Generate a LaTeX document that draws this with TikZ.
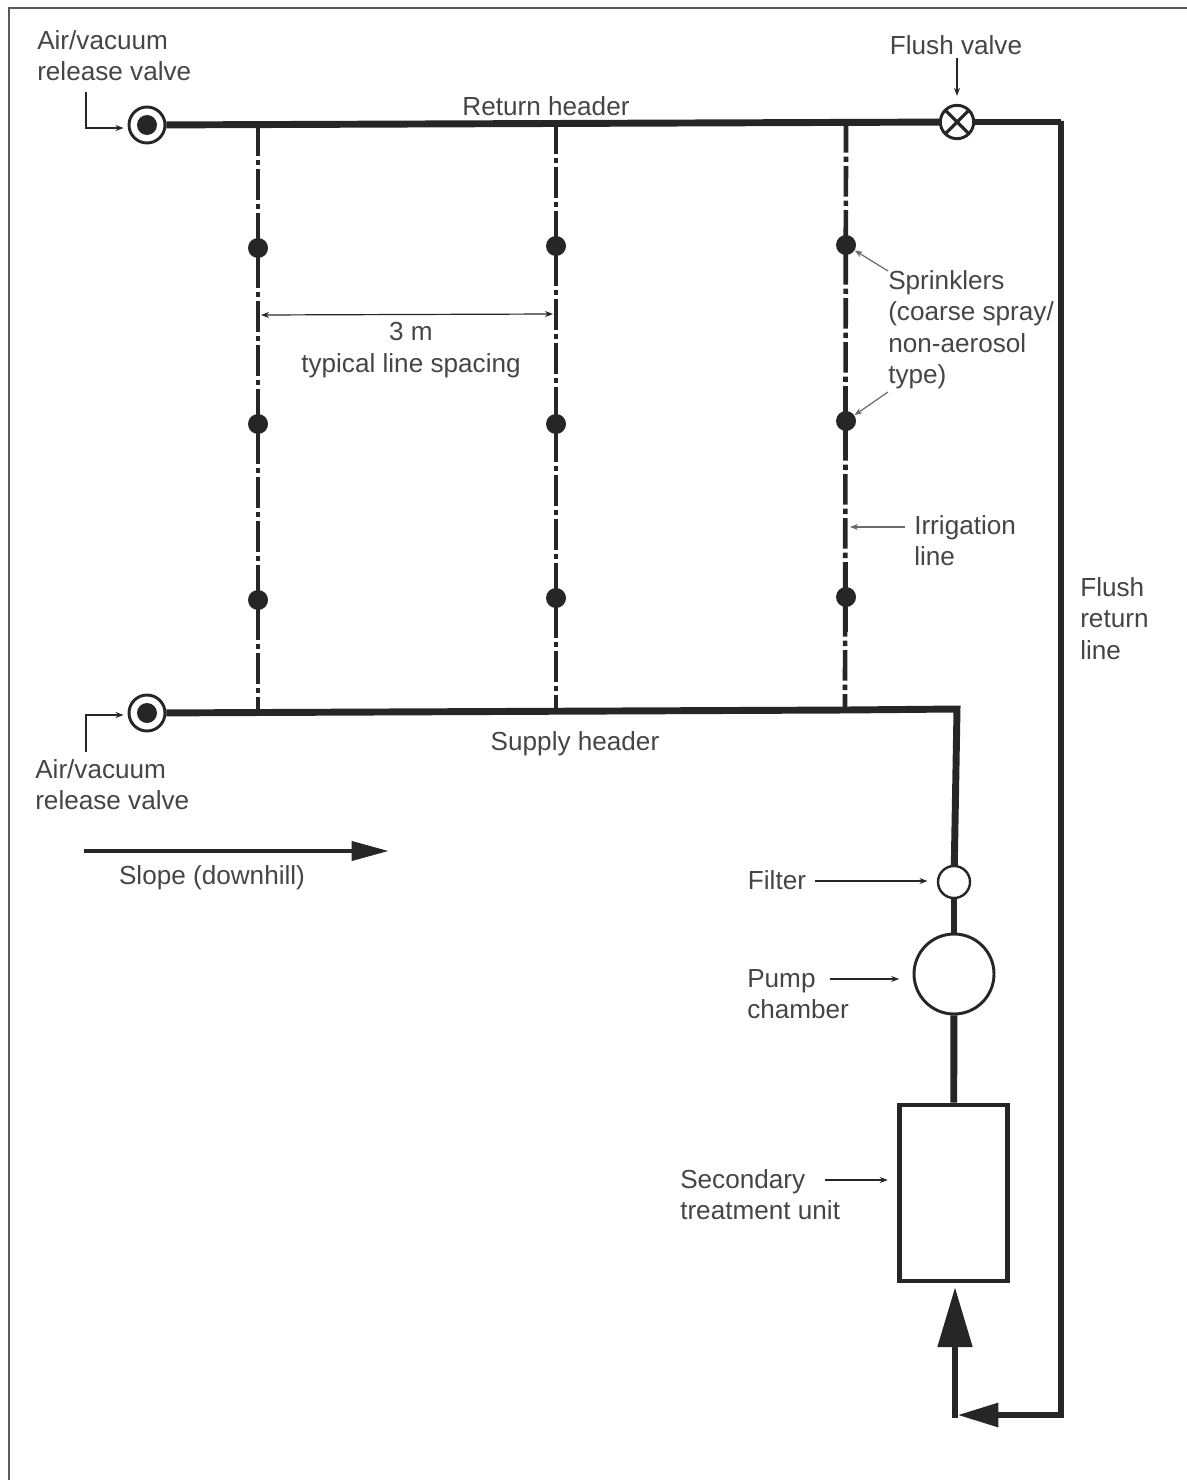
\documentclass[tikz,border=0pt]{standalone}
\usepackage{fontspec}
\setmainfont{Liberation Sans}
\usepackage{xcolor}
\usetikzlibrary{arrows.meta,positioning,calc}
\definecolor{pipec}{HTML}{262626}
\definecolor{labelc}{HTML}{454545}
\definecolor{framec}{HTML}{5A5A5A}
\tikzset{
  header/.style={draw=pipec,line width=5.2pt,line join=miter},
  irrline/.style={draw=pipec,line width=3.5pt,dash pattern=on 23pt off 3pt on 4pt off 3pt},
  irrsolid/.style={draw=pipec,line width=3.5pt},
  sprinkler/.style={circle,fill=pipec,inner sep=0pt,minimum size=15pt},
  airvalve/.style={circle,draw=pipec,line width=2.2pt,fill=white,inner sep=0pt,minimum size=27pt},
  flushv/.style={airvalve,minimum size=25pt,path picture={
    \draw[pipec,line width=2.4pt](path picture bounding box.south west)--(path picture bounding box.north east);
    \draw[pipec,line width=2.4pt](path picture bounding box.north west)--(path picture bounding box.south east);}},
  filterv/.style={airvalve,minimum size=24pt,line width=1.8pt},
  pumpc/.style={airvalve,minimum size=60pt},
  unitbox/.style={draw=pipec,line width=3.6pt,fill=white,inner sep=0pt,minimum width=81pt,minimum height=132pt},
  lbl/.style={inner sep=0pt,align=left,text=labelc,font=\fontsize{19.6}{23.6}\selectfont},
  leader/.style={draw=pipec,line width=0.9pt,-{Stealth[length=6pt,width=4.5pt]}},
  leaderg/.style={leader,draw=labelc!80},
  pipeflow/.style={draw=pipec,line width=5.2pt},
}
\begin{document}
\begin{tikzpicture}[x=0.75pt,y=-0.75pt]
  \useasboundingbox (0,0) rectangle (1187,1480);
  \coordinate (frameb) at (9,1480);
  \coordinate (framec) at (9,8);
  \coordinate (framer) at (1187,8);
  \draw[framec,line width=1.3pt](frameb)--(framec)--(framer);
  % valves and equipment
  \node[airvalve](avt) at (147,125){};
  \node[sprinkler](avtin) at (147,125){};
  \node[airvalve](avb) at (147,713){};
  \node[sprinkler](avbin) at (147,713){};
  \node[flushv](fv) at (957,122){};
  \node[filterv](flt) at (954,882){};
  \node[pumpc](pmp) at (954,974){};
  \node[unitbox](unit) at (953.5,1193){};
  % pipework
  \coordinate (rtop) at (1061,121);
  \coordinate (rbot) at (1061,1415);
  \coordinate (rin) at (957,1415);
  \coordinate (scor) at (957,709);
  \coordinate (utip) at (955,1287);
  \coordinate (ubot) at (955,1418);
  \draw[irrline](258,125)--(258,712);
  \draw[irrline](556,123)--(556,711);
  \draw[irrline](846,122)--(845,709);
  \foreach \n/\x/\ya/\yb/\yc in {a/258/248/424/600,b/556/246/424/598,c/846/245/421/597}{
    \foreach \k/\y in {1/\ya,2/\yb,3/\yc}{
      \node[sprinkler](s\n\k) at (\x,\y){};
      \draw[irrsolid]([yshift=-26pt]s\n\k.center)--([yshift=26pt]s\n\k.center);
    }
  }
  \draw[header](avt)--(fv);
  \draw[header](fv)-|(rtop)--(rbot)--(1030,1415);
  \draw[header](avb)--(846,710)--(scor)--(flt);
  \draw[header](flt)--(pmp);
  \draw[header](pmp)--(unit);
  \draw[pipeflow,{Triangle[length=45pt,width=25pt]}-](utip)--(ubot);
  \draw[pipeflow,-{Triangle[length=31pt,width=17pt]}](rbot)--(rin);
  % labels
  \node[lbl,anchor=north west](lavt) at (37,30){Air/vacuum\\release valve};
  \node[lbl,anchor=north west](lavb) at (35,759){Air/vacuum\\release valve};
  \node[lbl](lret) at (546,106){Return header};
  \node[lbl](lsup) at (575,744){Supply header};
  \node[lbl](lfv) at (956,45){Flush valve};
  \node[lbl,anchor=north west](lspr) at (888,270){Sprinklers\\(coarse spray/\\non-aerosol\\type)};
  \node[lbl,anchor=north west](lirr) at (914,515){Irrigation\\line};
  \node[lbl,anchor=north west](lfl) at (1080,577){Flush\\return\\line};
  \node[lbl,align=center](lsp) at (411,350){3 m\\typical line spacing};
  \node[lbl](lslope) at (212,878){Slope (downhill)};
  \node[lbl](lfilt) at (777,880){Filter};
  \node[lbl,anchor=north west](lpump) at (747,969){Pump\\chamber};
  \node[lbl,anchor=north west](lunit) at (680,1169){Secondary\\treatment unit};
  % leaders
  \coordinate (sa) at (84,851);
  \coordinate (sb) at (389,851);
  \draw[draw=pipec,line width=3.6pt,-{Triangle[length=28pt,width=14pt]}](sa)--(sb);
  \coordinate (c1) at (86,92);
  \coordinate (c2) at (86,752);
  \coordinate (c3) at (86,715);
  \coordinate (c4) at (86,128);
  \draw[leader](c1)--(c4)--([xshift=-3pt]avt.west|-c4);
  \draw[leader](c2)--(c3)--([xshift=-3pt]avb.west|-c3);
  \coordinate (fv1) at (957,58);
  \draw[leader](fv1)--([yshift=6pt]fv.north);
  \coordinate (d1) at (888,271);
  \coordinate (d2) at (888,392);
  \draw[leaderg](d1)--(sc1);
  \draw[leaderg](d2)--(sc2);
  \coordinate (e1) at (905,527);
  \coordinate (e2) at (850,527);
  \draw[leaderg](e1)--(e2);
  \coordinate (f1) at (815,881);
  \draw[leader](f1)--([xshift=-7pt]flt.west|-f1);
  \coordinate (g1) at (830,979);
  \draw[leader](g1)--([xshift=-10pt]pmp.west|-g1);
  \coordinate (h1) at (825,1180);
  \draw[leader](h1)--([xshift=-7pt]unit.west|-h1);
  \coordinate (k1) at (261,315);
  \coordinate (k2) at (553,314);
  \draw[leader,{Stealth[length=6pt,width=4.5pt]}-{Stealth[length=6pt,width=4.5pt]}](k1)--(k2);
\end{tikzpicture}
\end{document}
